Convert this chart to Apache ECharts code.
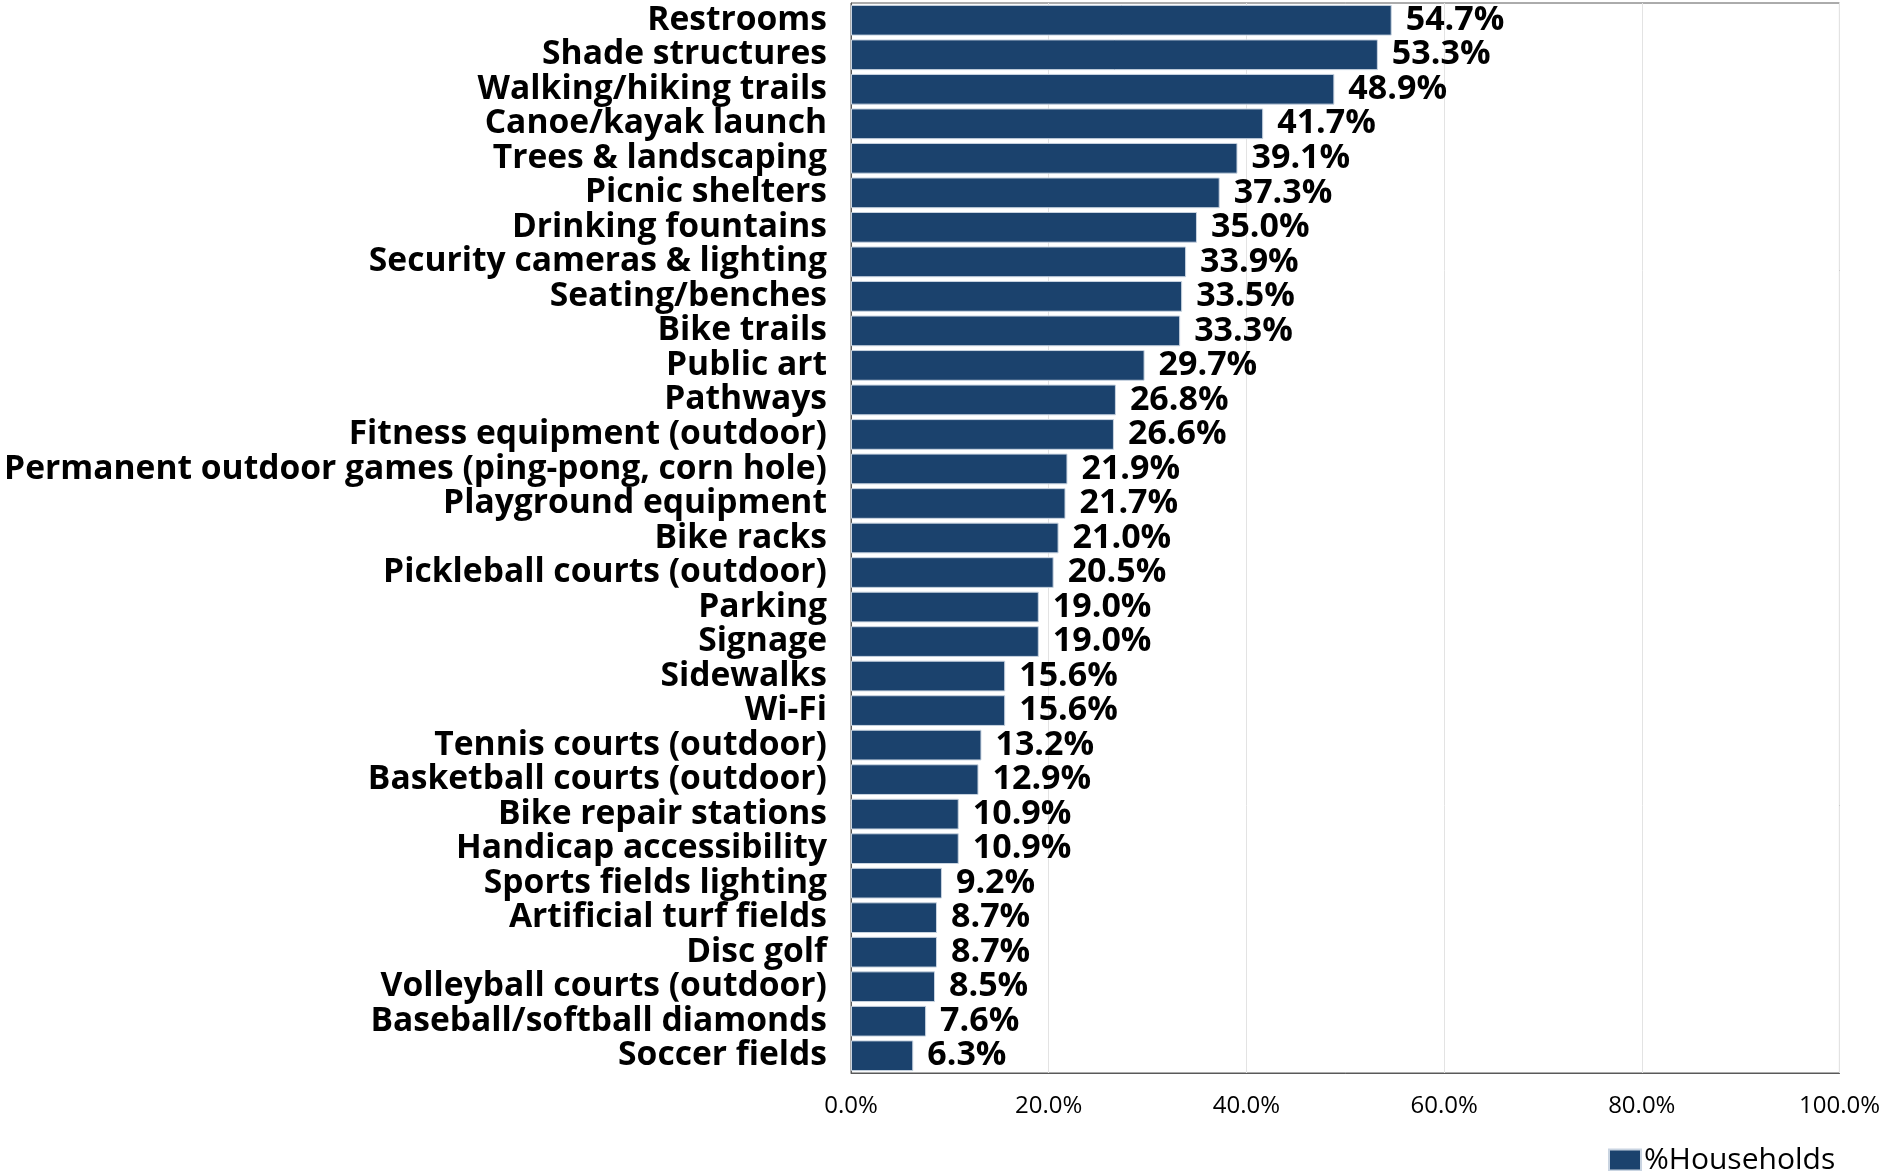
<!DOCTYPE html>
<html>
<head>
<meta charset="utf-8">
<script src="https://cdn.jsdelivr.net/npm/echarts@6/dist/echarts.min.js"></script>
<style>
  html, body { margin: 0; padding: 0; background: #fff; }
  #chart { width: 1883px; height: 1171px; }
</style>
</head>
<body>
<div id="chart"></div>
<script>
// categories, top to bottom
const categories = [
  'Restrooms', 'Shade structures', 'Walking/hiking trails', 'Canoe/kayak launch',
  'Trees & landscaping', 'Picnic shelters', 'Drinking fountains',
  'Security cameras & lighting', 'Seating/benches', 'Bike trails', 'Public art',
  'Pathways', 'Fitness equipment (outdoor)',
  'Permanent outdoor games (ping-pong, corn hole)', 'Playground equipment',
  'Bike racks', 'Pickleball courts (outdoor)', 'Parking', 'Signage', 'Sidewalks',
  'Wi-Fi', 'Tennis courts (outdoor)', 'Basketball courts (outdoor)',
  'Bike repair stations', 'Handicap accessibility', 'Sports fields lighting',
  'Artificial turf fields', 'Disc golf', 'Volleyball courts (outdoor)',
  'Baseball/softball diamonds', 'Soccer fields'
]
// %Households
const households = [
  54.7, 53.3, 48.9, 41.7, 39.1, 37.3, 35.0, 33.9, 33.5, 33.3, 29.7, 26.8, 26.6,
  21.9, 21.7, 21.0, 20.5, 19.0, 19.0, 15.6, 15.6, 13.2, 12.9, 10.9, 10.9, 9.2,
  8.7, 8.7, 8.5, 7.6, 6.3
]
const xTicks = [0, 20, 40, 60, 80, 100]

const chart = echarts.init(document.getElementById('chart'))
chart.setOption({
  animation: false,
  textStyle: { fontFamily: 'Open Sans' },
  grid: {
    left: 851, right: 43, top: 3, bottom: 98,
    show: true, borderColor: '#595959', borderWidth: 1, backgroundColor: 'transparent'
  },
  legend: {
    data: ['%Households'],
    left: 1603, top: 1140,
    itemWidth: 32, itemHeight: 21, itemGap: 10,
    icon: 'rect',
    textStyle: { fontSize: 30, color: '#000', padding: [0, 0, 0, -2] }
  },
  xAxis: {
    type: 'value',
    min: xTicks[0], max: xTicks[xTicks.length - 1], interval: 20,
    axisLine: { show: true, lineStyle: { color: '#595959' } },
    axisTick: { show: false },
    splitLine: { show: true, lineStyle: { color: '#e3e3e3', width: 1 } },
    axisLabel: {
      margin: 21, fontSize: 24, color: '#000',
      formatter: v => v.toFixed(1) + '%'
    }
  },
  yAxis: {
    type: 'category',
    inverse: true,
    data: categories,
    axisLine: { show: true, lineStyle: { color: '#595959' } },
    axisTick: { show: false },
    axisLabel: {
      interval: 0, margin: 24, fontSize: 33.6, fontWeight: 'bold', color: '#000',
      padding: [8, 0, 0, 0]
    }
  },
  series: [{
    name: '%Households',
    type: 'bar',
    data: households,
    barCategoryGap: '11%',
    itemStyle: { color: '#1b426d', borderColor: '#c9d4e1', borderWidth: 1 },
    label: {
      show: true, position: 'right', distance: 14,
      fontSize: 34, fontWeight: 'bold', color: '#000',
      padding: [8, 0, 0, 0],
      formatter: p => p.value.toFixed(1) + '%'
    }
  }]
})
</script>
</body>
</html>
